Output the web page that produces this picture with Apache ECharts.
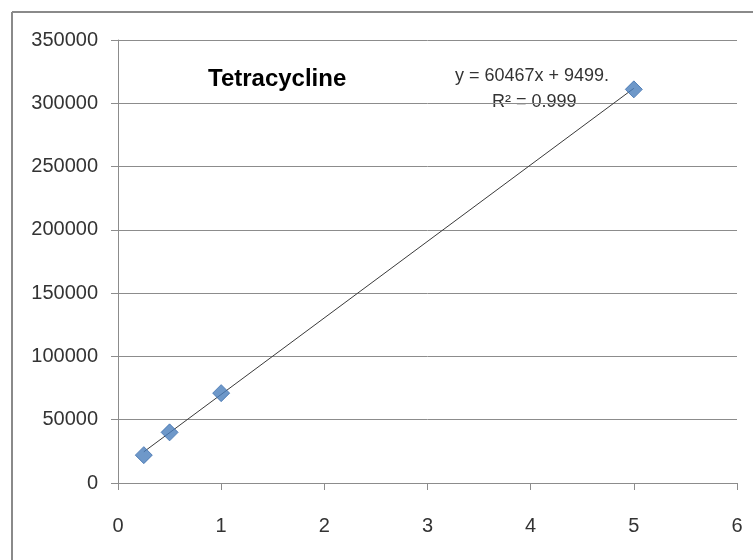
<!DOCTYPE html>
<html>
<head>
<meta charset="utf-8">
<script src="https://cdn.jsdelivr.net/npm/echarts@6/dist/echarts.min.js"></script>
<style>
html,body{margin:0;padding:0;background:#fff;}
#chart{width:753px;height:560px;}
</style>
</head>
<body>
<div id="chart"></div>
<script>
// Data
var concentrations = [0.25, 0.5, 1, 5];
var peakAreas = [22000, 40000, 71000, 311000];
var trendX = [0.25, 5];
var trendY = [24616, 311834];
var titleText = 'Tetracycline';
var equationText = 'y = 60467x + 9499.';
var r2Text = 'R\u00b2 = 0.999';
var xTicks = [0, 1, 2, 3, 4, 5, 6];
var yTicks = [0, 50000, 100000, 150000, 200000, 250000, 300000, 350000];

var chart = echarts.init(document.getElementById('chart'), null, {renderer: 'canvas'});
var font = '"Liberation Sans", Arial, sans-serif';

var option = {
  animation: false,
  backgroundColor: '#ffffff',
  grid: {left: 118, right: 16, top: 40, bottom: 77, containLabel: false},
  xAxis: {
    type: 'value',
    min: xTicks[0],
    max: xTicks[xTicks.length - 1],
    interval: 1,
    splitLine: {show: false},
    axisLine: {show: true, onZero: false, lineStyle: {color: '#8c8c8c', width: 1}},
    axisTick: {show: true, inside: false, length: 7, lineStyle: {color: '#8c8c8c'}},
    axisLabel: {margin: 33, color: '#333', fontSize: 20, fontFamily: font,
      formatter: function (v) { return String(v); }}
  },
  yAxis: {
    type: 'value',
    min: yTicks[0],
    max: yTicks[yTicks.length - 1],
    interval: 50000,
    splitLine: {show: true, lineStyle: {color: '#8c8c8c', width: 1}},
    axisLine: {show: true, onZero: false, lineStyle: {color: '#8c8c8c', width: 1}},
    axisTick: {show: true, inside: false, length: 7, lineStyle: {color: '#8c8c8c'}},
    axisLabel: {margin: 20, color: '#333', fontSize: 20, fontFamily: font,
      formatter: function (v) { return String(v); }}
  },
  series: [
    {
      type: 'line',
      data: trendX.map(function (x, i) { return [x, trendY[i]]; }),
      showSymbol: false,
      symbol: 'none',
      lineStyle: {color: '#3a3a3a', width: 1},
      z: 2
    },
    {
      type: 'scatter',
      data: concentrations.map(function (x, i) { return [x, peakAreas[i]]; }),
      symbol: 'diamond',
      symbolSize: 17,
      itemStyle: {color: '#4a7ebb', borderColor: '#3d6fae', borderWidth: 1},
      z: 3
    }
  ],
  graphic: [
    {type: 'line', shape: {x1: 12, y1: 12, x2: 753, y2: 12}, style: {stroke: '#8a8a8a', lineWidth: 2}},
    {type: 'line', shape: {x1: 12, y1: 12, x2: 12, y2: 560}, style: {stroke: '#8a8a8a', lineWidth: 2}},
    {type: 'text', left: 208, top: 67, style: {text: titleText, font: 'bold 24px ' + font, fill: '#000'}},
    {type: 'text', left: 455, top: 67, style: {text: equationText, font: '18px ' + font, fill: '#333'}},
    {type: 'text', left: 492, top: 93, style: {text: r2Text, font: '18px ' + font, fill: '#333'}}
  ]
};
chart.setOption(option);
</script>
</body>
</html>
